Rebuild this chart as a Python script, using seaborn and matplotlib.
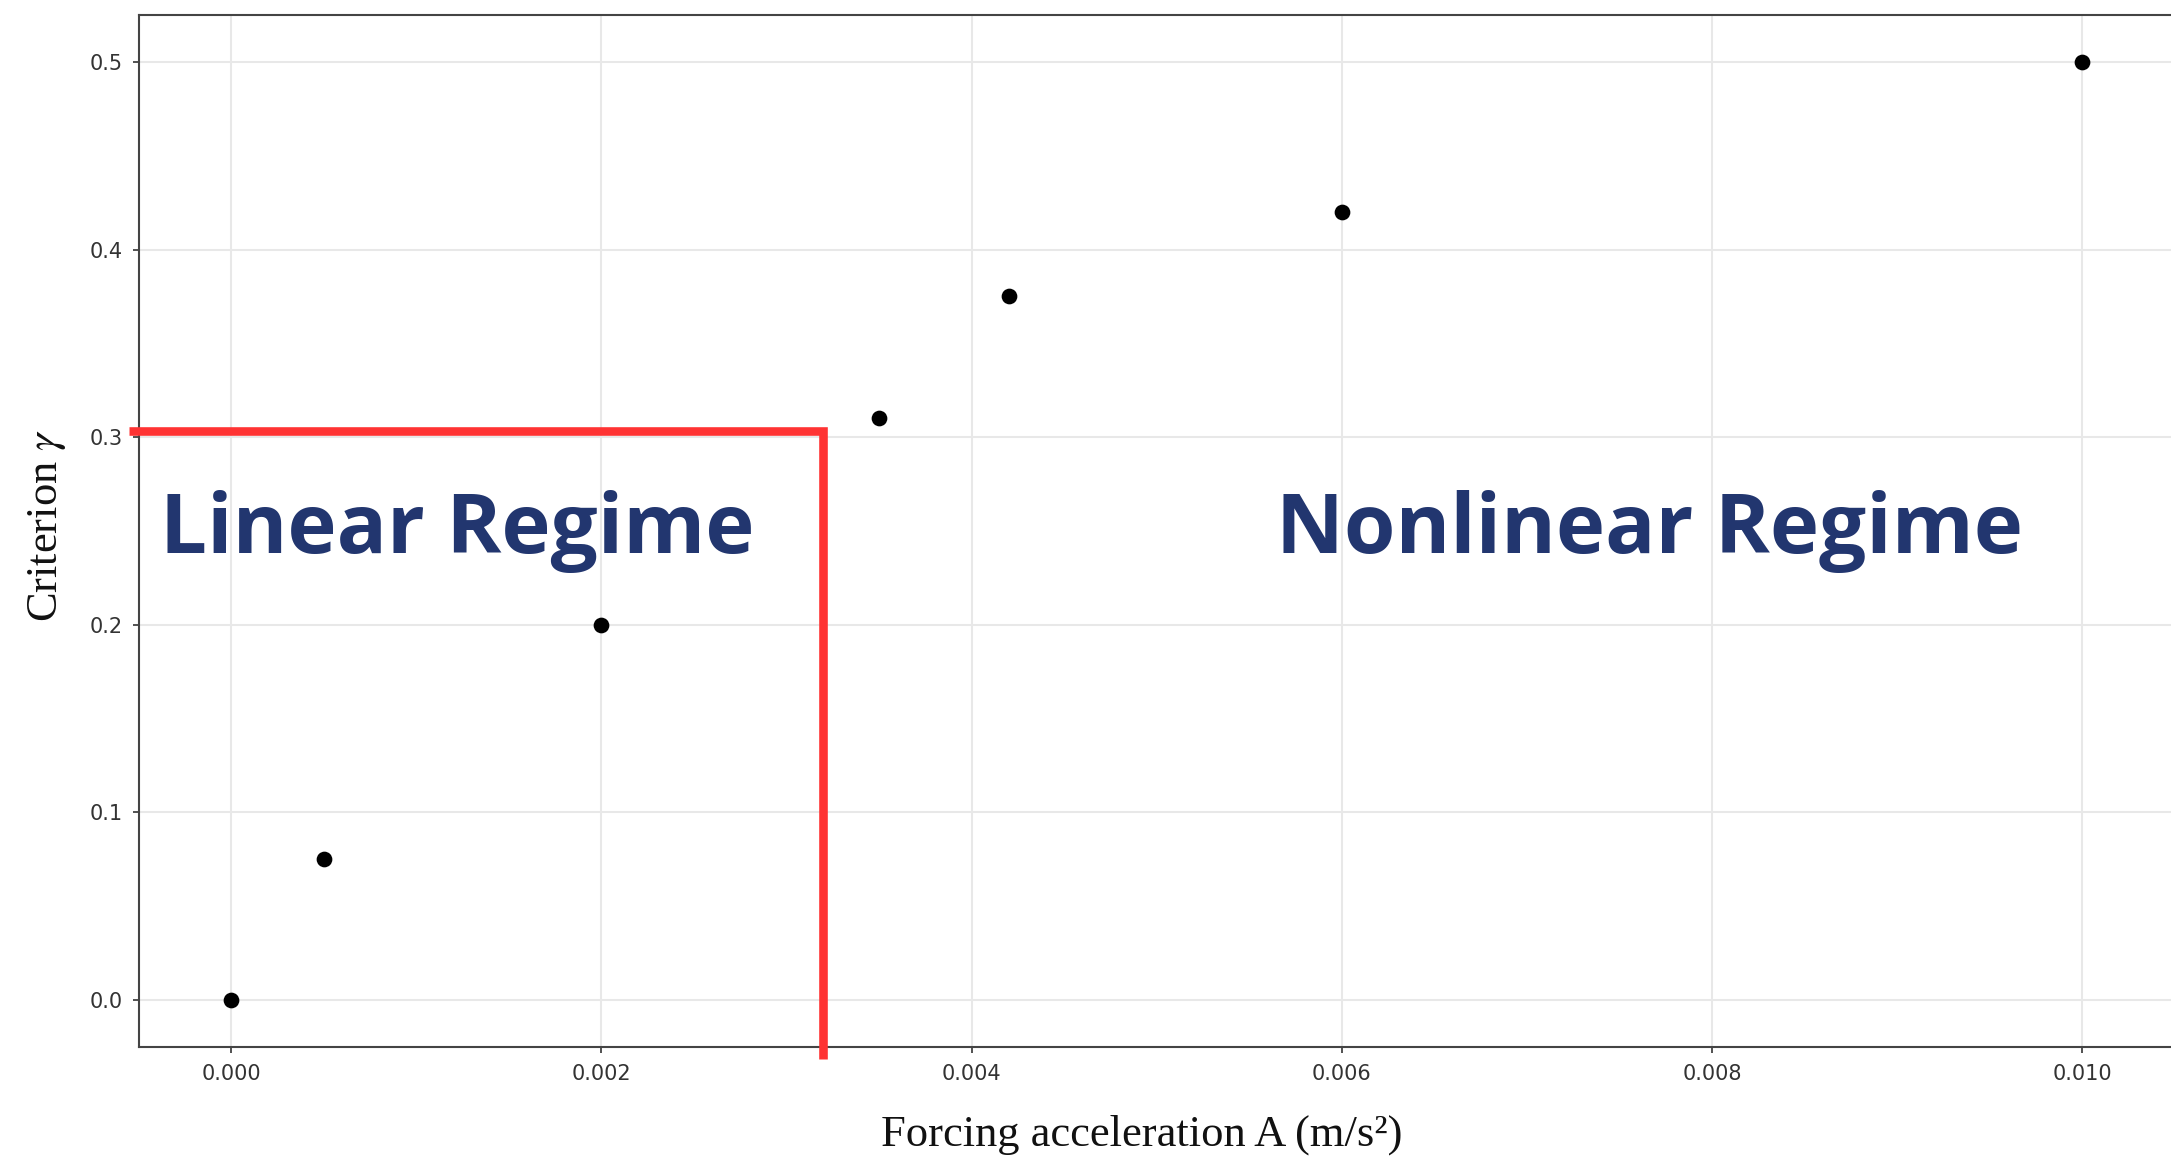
import matplotlib
matplotlib.use("Agg")
import matplotlib.pyplot as plt
import seaborn as sns
import pandas as pd

# Measured criterion versus forcing acceleration
forcing_acc = [0.0, 0.0005, 0.002, 0.0035, 0.0042, 0.006, 0.010]
criterion = [0.0, 0.075, 0.20, 0.31, 0.375, 0.42, 0.50]

x_ticks = [0.000, 0.002, 0.004, 0.006, 0.008, 0.010]
x_tick_labels = ["0.000", "0.002", "0.004", "0.006", "0.008", "0.010"]
y_ticks = [0.0, 0.1, 0.2, 0.3, 0.4, 0.5]
y_tick_labels = ["0.0", "0.1", "0.2", "0.3", "0.4", "0.5"]

# Boundary of the linear regime (corner of the red bracket)
boundary_x = 0.0032
boundary_y = 0.3035
bracket_x_start = -0.00055
bracket_y_end = -0.0316

regime_labels = ["Linear Regime", "Nonlinear Regime"]
regime_label_x = [0.00122, 0.00766]
regime_label_y = 0.250

df = pd.DataFrame({"A": forcing_acc, "gamma": criterion})

sns.set_style("ticks")
plt.rcParams["font.family"] = ["DejaVu Sans"]
plt.rcParams["mathtext.fontset"] = "stix"

fig = plt.figure(figsize=(21.71, 11.58), dpi=100)
ax = fig.add_axes([0.0638, 0.0959, 0.9380, 0.8911])

ax.grid(True, color="#e8e8e8", linewidth=1.5, zorder=0)
ax.set_axisbelow(True)

sns.scatterplot(data=df, x="A", y="gamma", ax=ax, color="black",
                s=128, linewidth=0, zorder=3)

ax.set_xlim(-0.0005, 0.0105)
ax.set_ylim(-0.025, 0.525)
ax.set_xticks(x_ticks)
ax.set_xticklabels(x_tick_labels)
ax.set_yticks(y_ticks)
ax.set_yticklabels(y_tick_labels)

ax.tick_params(axis="both", labelsize=15, colors="#333333", length=4.5,
               width=1.2)
ax.tick_params(axis="x", pad=8)
ax.tick_params(axis="y", pad=7)

for side in ["left", "bottom", "top", "right"]:
    ax.spines[side].set_color("#444444")
    ax.spines[side].set_linewidth(1.5)

# Red bracket separating the two regimes
ax.plot([bracket_x_start, boundary_x, boundary_x],
        [boundary_y, boundary_y, bracket_y_end],
        color="#ff3333", linewidth=6.2, solid_joinstyle="miter",
        solid_capstyle="butt", clip_on=False, zorder=4)

for label, lx in zip(regime_labels, regime_label_x):
    ax.text(lx, regime_label_y, label, ha="center", va="center",
            fontsize=60, fontweight="bold", color="#22366f",
            family=["Open Sans", "DejaVu Sans"], zorder=5)

ax.set_xlabel("Forcing acceleration A (m/s²)", fontsize=32,
              family=["Liberation Serif", "DejaVu Serif"], color="#111111")
ax.set_ylabel(r"Criterion $\gamma$", fontsize=32,
              family=["Liberation Serif", "DejaVu Serif"], color="#111111")
ax.xaxis.set_label_coords(0.4928, -0.0853)
ax.xaxis.label.set_va("center")
ax.yaxis.set_label_coords(-0.0449, 0.5058)
ax.yaxis.label.set_va("center")

fig.savefig("out.png", dpi=100)
